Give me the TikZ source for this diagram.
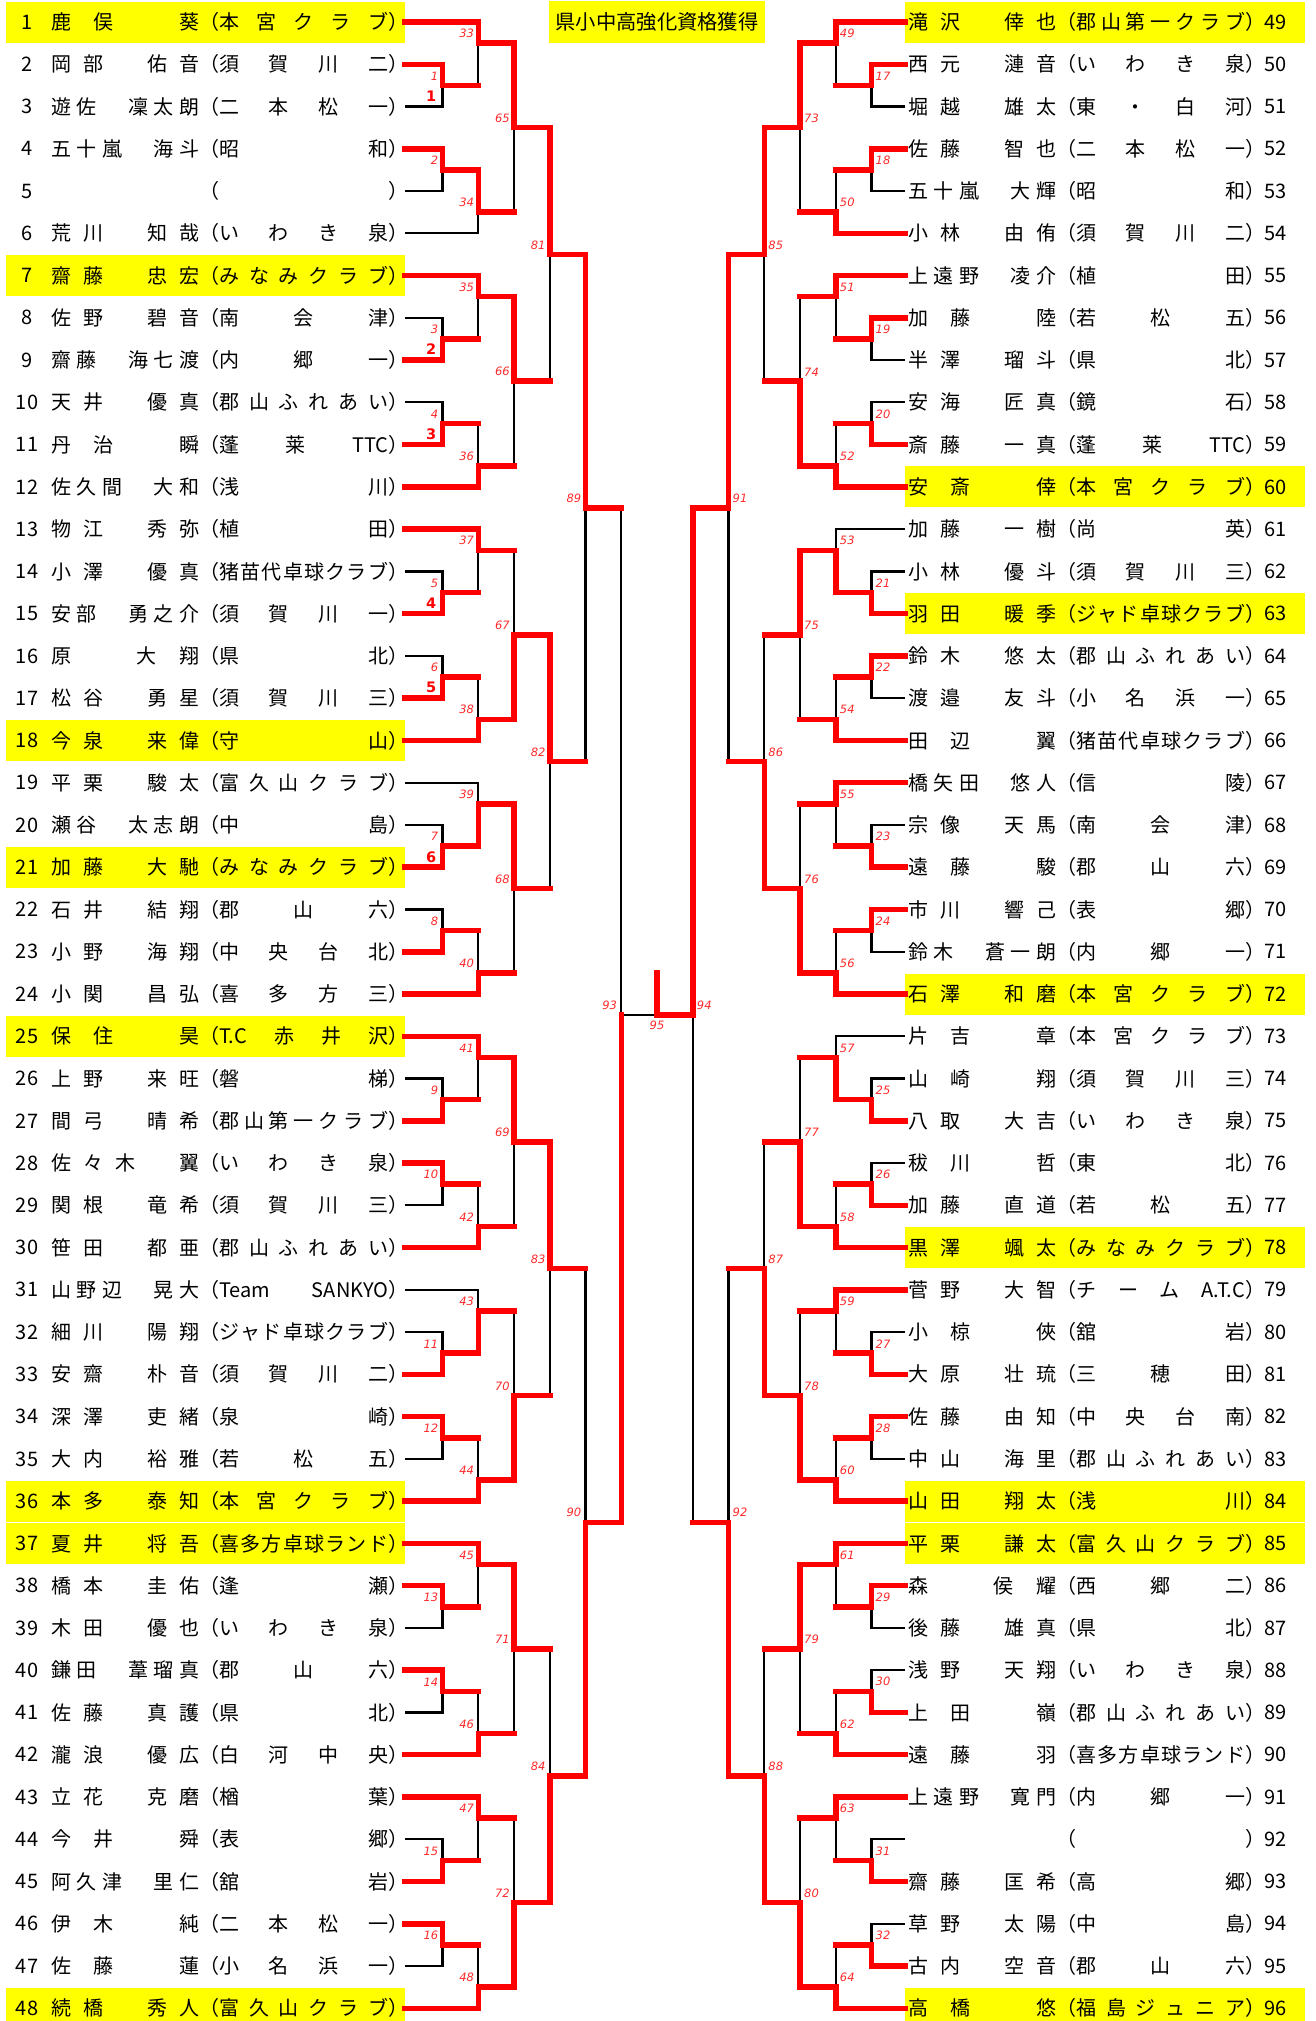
\documentclass[tikz,border=0pt]{standalone}
\usepackage{fontspec}
\usepackage{xcolor}
\setmainfont{Noto Sans CJK JP}
\newfontfamily\labfont{DejaVu Sans}
\usetikzlibrary{calc}
\definecolor{hiyellow}{RGB}{255,255,0}
\definecolor{winred}{RGB}{255,0,0}
\definecolor{labred}{RGB}{255,40,40}

\makeatletter
\def\spr#1{\spr@a#1\relax}
\def\spr@a#1{#1\spr@b}
\def\spr@b#1{\ifx\relax#1\else\hfil#1\expandafter\spr@b\fi}
\makeatother
\newcommand\pname[2]{\edef\tmpname{#1　#2}\hbox to 148pt{\expandafter\spr\expandafter{\tmpname}}}
\newcommand\pclub[1]{\edef\tmpclub{#1}\hbox to 169pt{\expandafter\spr\expandafter{\tmpclub}}}

\begin{document}
\begin{tikzpicture}[x=1pt,y=-1pt,
    declare function={yh(\h)=21.13*\h+0.9; xl(\r)=442.5+35.75*(\r-1); xr(\r)=871.5-35.75*(\r-1);},
    row/.style={anchor=west,inner sep=0pt,font=\fontsize{20}{24}\selectfont},
    num/.style={inner sep=0pt,font=\fontsize{20}{24}\selectfont},
    title/.style={fill=hiyellow,minimum width=216pt,minimum height=42pt,inner sep=0pt,font=\fontsize{20.3}{24}\selectfont},
    mlab/.style={inner sep=0pt,text=labred,font=\labfont\itshape\fontsize{11.5}{12}\selectfont},
    blab/.style={inner sep=0pt,text=winred,font=\labfont\bfseries\fontsize{14.5}{15}\selectfont},
    lose/.style={line width=2.2pt,black},
    win/.style={line width=5.5pt,winred,line cap=rect,line join=miter}]
            \useasboundingbox (0,0) rectangle (1315,2021);

            %%% HIGHLIGHTS %%%
            \foreach \i in {1,7,18,21,25,36,37,48}
                \fill[hiyellow] (6,{yh(2*\i-1)-20.5}) rectangle (405,{yh(2*\i-1)+20.5});
            \foreach \j in {49,60,63,72,78,84,85,96}
                \fill[hiyellow] (905,{yh(2*\j-97)-20.5}) rectangle (1305,{yh(2*\j-97)+20.5});
            \node[title] (title) at (657,22) {県小中高強化資格獲得};

            %%% PLAYERS LEFT %%%
            \foreach \i in {1,...,48} {
                \node[num] (n\i) at (27,{yh(2*\i-1)}) {\i};
                \coordinate (p\i) at (405,{yh(2*\i-1)});
            }
            \foreach \i/\sn/\gn/\cl in {1/鹿俣/葵/本宮クラブ, 2/岡部/佑音/須賀川二, 3/遊佐/凜太朗/二本松一,
                4/五十嵐/海斗/昭和, 6/荒川/知哉/いわき泉, 7/齋藤/忠宏/みなみクラブ, 8/佐野/碧音/南会津,
                9/齋藤/海七渡/内郷一, 10/天井/優真/郡山ふれあい, 11/丹治/瞬/蓬莱{TTC}, 12/佐久間/大和/浅川,
                13/物江/秀弥/植田, 14/小澤/優真/猪苗代卓球クラブ, 15/安部/勇之介/須賀川一, 16/原/大翔/県北,
                17/松谷/勇星/須賀川三, 18/今泉/来偉/守山, 19/平栗/駿太/富久山クラブ, 20/瀬谷/太志朗/中島,
                21/加藤/大馳/みなみクラブ, 22/石井/結翔/郡山六, 23/小野/海翔/中央台北, 24/小関/昌弘/喜多方三,
                25/保住/昊/{T.C}赤井沢, 26/上野/来旺/磐梯, 27/間弓/晴希/郡山第一クラブ, 28/佐々木/翼/いわき泉,
                29/関根/竜希/須賀川三, 30/笹田/都亜/郡山ふれあい, 31/山野辺/晃大/{Team}{SANKYO},
                32/細川/陽翔/ジャド卓球クラブ, 33/安齋/朴音/須賀川二, 34/深澤/吏緒/泉崎, 35/大内/裕雅/若松五,
                36/本多/泰知/本宮クラブ, 37/夏井/将吾/喜多方卓球ランド, 38/橋本/圭佑/逢瀬, 39/木田/優也/いわき泉,
                40/鎌田/葦瑠真/郡山六, 41/佐藤/真護/県北, 42/瀧浪/優広/白河中央, 43/立花/克磨/楢葉,
                44/今井/舜/表郷, 45/阿久津/里仁/舘岩, 46/伊木/純/二本松一, 47/佐藤/蓮/小名浜一,
                48/続橋/秀人/富久山クラブ}
                \node[row] (t\i) at (51,{yh(2*\i-1)}) {\pname{\sn}{\gn}（\pclub{\cl}）};
            \node[row] (t5) at (51,{yh(9)}) {\hbox to 148pt{}（\hbox to 169pt{}）};

            %%% PLAYERS RIGHT %%%
            \foreach \j in {49,...,96} {
                \node[num,anchor=west] (n\j) at (1264,{yh(2*\j-97)}) {\j};
                \coordinate (p\j) at (905,{yh(2*\j-97)});
            }
            \foreach \j/\sn/\gn/\cl in {49/滝沢/倖也/郡山第一クラブ, 50/西元/漣音/いわき泉, 51/堀越/雄太/東・白河,
                52/佐藤/智也/二本松一, 53/五十嵐/大輝/昭和, 54/小林/由侑/須賀川二, 55/上遠野/凌介/植田,
                56/加藤/陸/若松五, 57/半澤/瑠斗/県北, 58/安海/匠真/鏡石, 59/斎藤/一真/蓬莱{TTC},
                60/安斎/倖/本宮クラブ, 61/加藤/一樹/尚英, 62/小林/優斗/須賀川三, 63/羽田/暖季/ジャド卓球クラブ,
                64/鈴木/悠太/郡山ふれあい, 65/渡邉/友斗/小名浜一, 66/田辺/翼/猪苗代卓球クラブ, 67/橋矢田/悠人/信陵,
                68/宗像/天馬/南会津, 69/遠藤/駿/郡山六, 70/市川/響己/表郷, 71/鈴木/蒼一朗/内郷一,
                72/石澤/和磨/本宮クラブ, 73/片吉/章/本宮クラブ, 74/山崎/翔/須賀川三, 75/八取/大吉/いわき泉,
                76/秡川/哲/東北, 77/加藤/直道/若松五, 78/黒澤/颯太/みなみクラブ, 79/菅野/大智/チーム{A.T.C},
                80/小椋/俠/舘岩, 81/大原/壮琉/三穂田, 82/佐藤/由知/中央台南, 83/中山/海里/郡山ふれあい,
                84/山田/翔太/浅川, 85/平栗/謙太/富久山クラブ, 86/森/侯耀/西郷二, 87/後藤/雄真/県北,
                88/浅野/天翔/いわき泉, 89/上田/嶺/郡山ふれあい, 90/遠藤/羽/喜多方卓球ランド, 91/上遠野/寛門/内郷一,
                93/齋藤/匡希/高郷, 94/草野/太陽/中島, 95/古内/空音/郡山六, 96/高橋/悠/福島ジュニア}
                \node[row] (t\j) at (908,{yh(2*\j-97)}) {\pname{\sn}{\gn}（\pclub{\cl}）};
            \node[row] (t92) at (908,{yh(87)}) {\hbox to 148pt{}（\hbox to 169pt{}）};

            %%% MATCH POINTS %%%
            \foreach \b [evaluate=\b as \mA using int(2*\b+1), evaluate=\b as \mB using int(2*\b+2),
                         evaluate=\b as \mC using int(2*\b+33), evaluate=\b as \mD using int(2*\b+34),
                         evaluate=\b as \mE using int(\b+65)] in {0,...,7} {
                \coordinate (m\mA) at ({xl(1)},{yh(12*\b+4)});
                \coordinate (m\mB) at ({xl(1)},{yh(12*\b+8)});
                \coordinate (m\mC) at ({xl(2)},{yh(12*\b+2)});
                \coordinate (m\mD) at ({xl(2)},{yh(12*\b+10)});
                \coordinate (m\mE) at ({xl(3)},{yh(12*\b+6)});
            }
            \foreach \b [evaluate=\b as \mA using int(2*\b+17), evaluate=\b as \mB using int(2*\b+18),
                         evaluate=\b as \mC using int(2*\b+49), evaluate=\b as \mD using int(2*\b+50),
                         evaluate=\b as \mE using int(\b+73)] in {0,...,7} {
                \coordinate (m\mA) at ({xr(1)},{yh(12*\b+4)});
                \coordinate (m\mB) at ({xr(1)},{yh(12*\b+8)});
                \coordinate (m\mC) at ({xr(2)},{yh(12*\b+2)});
                \coordinate (m\mD) at ({xr(2)},{yh(12*\b+10)});
                \coordinate (m\mE) at ({xr(3)},{yh(12*\b+6)});
            }
            \foreach \c [evaluate=\c as \mA using int(\c+81), evaluate=\c as \mB using int(\c+85)] in {0,...,3} {
                \coordinate (m\mA) at ({xl(4)},{yh(24*\c+12)});
                \coordinate (m\mB) at ({xr(4)},{yh(24*\c+12)});
            }
            \coordinate (m89) at ({xl(5)},{yh(24)});
            \coordinate (m90) at ({xl(5)},{yh(72)});
            \coordinate (m91) at ({xr(5)},{yh(24)});
            \coordinate (m92) at ({xr(5)},{yh(72)});
            \coordinate (m93) at ({xl(6)},{yh(48)});
            \coordinate (m94) at ({xr(6)},{yh(48)});
            \coordinate (m95) at (657,{yh(48)});
            \coordinate (champ) at (657,{yh(46)});

            %%% LOSERS %%%
            \foreach \a/\b in {3/1,5/2,8/3,10/4,14/5,16/6,20/7,22/8,26/9,29/10,32/11,35/12,39/13,41/14,44/15,47/16,
                6/34,19/39,31/43,51/17,53/18,57/19,58/20,62/21,65/22,68/23,71/24,74/25,76/26,80/27,83/28,
                87/29,88/30,92/31,94/32,61/53,73/57}
                \draw[lose] (p\a) -| (m\b);
            \foreach \a/\b in {1/33,3/35,4/36,5/37,6/38,8/40,9/41,10/42,12/44,13/45,14/46,15/47,16/48,
                34/65,36/66,37/67,40/68,42/69,43/70,46/71,47/72,66/81,68/82,70/83,71/84,82/89,83/90,89/93,
                17/49,18/50,19/51,20/52,22/54,23/55,24/56,26/58,27/59,28/60,29/61,30/62,31/63,32/64,
                50/73,51/74,54/75,55/76,57/77,59/78,62/79,63/80,74/85,75/86,77/87,79/88,86/91,87/92,92/94}
                \draw[lose] (m\a -| m\b) -- (m\b);
            \draw[lose] (m93) -- (m95);

            %%% WINNERS %%%
            \foreach \a/\b/\c in {2/1/33,9/3/35,11/4/36,12/36/66,13/37/67,15/5/37,17/6/38,23/8/40,24/40/68,
                27/9/41,28/10/42,30/42/69,34/12/44,38/13/45,40/14/46,42/46/71,43/47/72,45/15/47,46/16/48,
                50/17/49,52/18/50,54/50/73,55/51/74,56/19/51,59/20/52,64/22/54,66/54/75,67/55/76,69/23/55,
                70/24/56,77/26/58,79/59/78,81/27/59,82/28/60,86/29/61,89/30/62,90/62/79,91/63/80,93/31/63,95/32/64}
                \draw[win] (p\a) -| (m\b) -- (m\b -| m\c);
            \draw[win] (p4) -| (m2) -| (m34) -- (m34 -| m65);
            \draw[win] (p7) -| (m35) -| (m66) -- (m66 -| m81);
            \draw[win] (p33) -| (m11) -| (m43) -- (m43 -| m70);
            \draw[win] (p36) -| (m44) -| (m70) -- (m70 -| m83);
            \draw[win] (p37) -| (m45) -| (m71) -- (m71 -| m84);
            \draw[win] (p18) -| (m38) -| (m67) -| (m82) -- (m82 -| m89);
            \draw[win] (p21) -| (m7) -| (m39) -| (m68) -- (m68 -| m82);
            \draw[win] (p25) -| (m41) -| (m69) -| (m83) -- (m83 -| m90);
            \draw[win] (p1) -| (m33) -| (m65) -| (m81) -| (m89) -- (m89 -| m93);
            \draw[win] (p48) -| (m48) -| (m72) -| (m84) -| (m90) -| (m93);
            \draw[win] (p60) -| (m52) -| (m74) -- (m74 -| m85);
            \draw[win] (p75) -| (m25) -| (m57) -- (m57 -| m77);
            \draw[win] (p78) -| (m58) -| (m77) -- (m77 -| m87);
            \draw[win] (p85) -| (m61) -| (m79) -- (m79 -| m88);
            \draw[win] (p63) -| (m21) -| (m53) -| (m75) -- (m75 -| m86);
            \draw[win] (p72) -| (m56) -| (m76) -| (m86) -- (m86 -| m91);
            \draw[win] (p84) -| (m60) -| (m78) -| (m87) -- (m87 -| m92);
            \draw[win] (p96) -| (m64) -| (m80) -| (m88) -| (m92) -- (m92 -| m94);
            \draw[win] (p49) -| (m49) -| (m73) -| (m85) -| (m91) -| (m94) -- (m95) -- (champ);

            %%% MATCH NUMBERS %%%
            \foreach \m in {1,...,16} \node[mlab,anchor=south east,xshift=-4pt,yshift=5pt] (l\m) at (m\m) {\m};
            \foreach \m in {33,...,48} \node[mlab,anchor=south east,xshift=-4pt,yshift=5pt] (l\m) at (m\m) {\m};
            \foreach \m in {65,...,72} \node[mlab,anchor=south east,xshift=-4pt,yshift=5pt] (l\m) at (m\m) {\m};
            \foreach \m in {81,82,83,84,89,90,93} \node[mlab,anchor=south east,xshift=-4pt,yshift=5pt] (l\m) at (m\m) {\m};
            \foreach \m in {17,...,32} \node[mlab,anchor=south west,xshift=4pt,yshift=5pt] (l\m) at (m\m) {\m};
            \foreach \m in {49,...,64} \node[mlab,anchor=south west,xshift=4pt,yshift=5pt] (l\m) at (m\m) {\m};
            \foreach \m in {73,...,80} \node[mlab,anchor=south west,xshift=4pt,yshift=5pt] (l\m) at (m\m) {\m};
            \foreach \m in {85,86,87,88,91,92,94} \node[mlab,anchor=south west,xshift=4pt,yshift=5pt] (l\m) at (m\m) {\m};
            \node[mlab,anchor=north,yshift=-6pt] (l95) at (m95) {95};
            \foreach \m/\k in {1/1,3/2,4/3,5/4,6/5,7/6}
                \node[blab,anchor=north east,xshift=-6pt,yshift=-5pt] (b\k) at (m\m) {\k};
        \end{tikzpicture}
\end{document}
